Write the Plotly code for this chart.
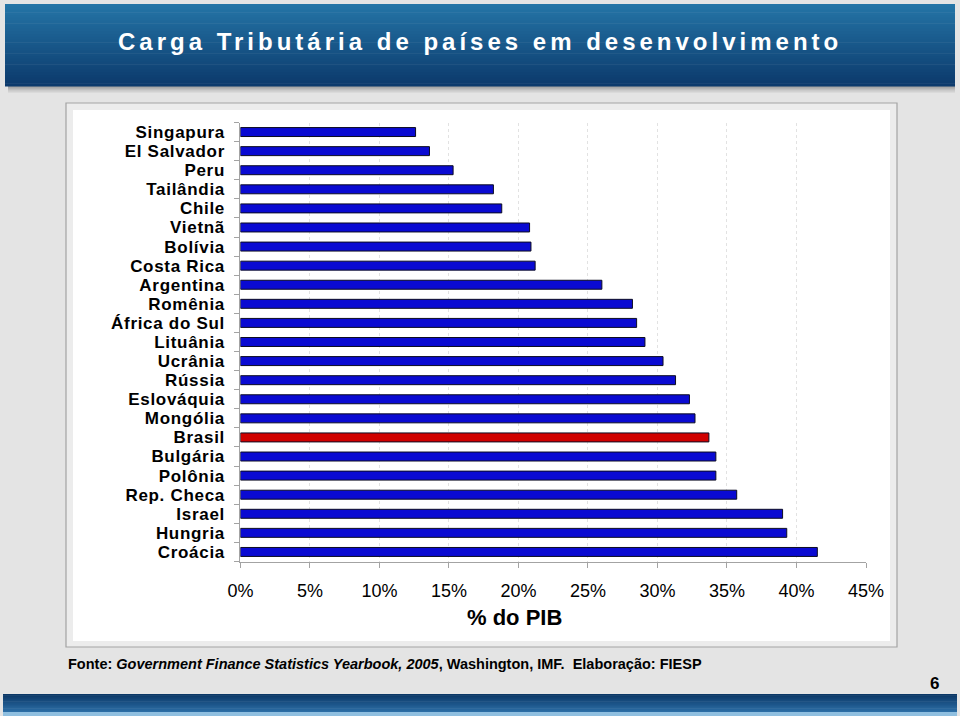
import plotly.graph_objects as go

W, H = 960, 716

# ---------------- data ----------------
countries = ["Singapura", "El Salvador", "Peru", "Tailândia", "Chile", "Vietnã",
             "Bolívia", "Costa Rica", "Argentina", "Romênia", "África do Sul",
             "Lituânia", "Ucrânia", "Rússia", "Eslováquia", "Mongólia", "Brasil",
             "Bulgária", "Polônia", "Rep. Checa", "Israel", "Hungria", "Croácia"]
carga_pct = [12.6, 13.6, 15.3, 18.2, 18.8, 20.8, 20.9, 21.2, 26.0, 28.2, 28.5,
             29.1, 30.4, 31.3, 32.3, 32.7, 33.7, 34.2, 34.2, 35.7, 39.0, 39.3, 41.5]
highlight = "Brasil"
x_tick_vals = [0, 5, 10, 15, 20, 25, 30, 35, 40, 45]
x_tick_labels = ["0%", "5%", "10%", "15%", "20%", "25%", "30%", "35%", "40%", "45%"]

title_text = "Carga Tributária de países em desenvolvimento"
axis_title = "% do PIB"
source_text = ("Fonte: <i>Government Finance Statistics Yearbook, 2005</i>, "
               "Washington, IMF.  Elaboração: FIESP")
page_number = "6"

# ---------------- helpers ----------------
def px(x):
    return x / W

def py(y):
    return 1 - y / H

def hex2rgb(h):
    h = h.lstrip("#")
    return tuple(int(h[i:i + 2], 16) for i in (0, 2, 4))

def lerp(c1, c2, t):
    a, b = hex2rgb(c1), hex2rgb(c2)
    return "rgb(%d,%d,%d)" % tuple(round(a[i] + (b[i] - a[i]) * t) for i in range(3))

shapes = []

def rect(x0, y0, x1, y1, fill, line=None, lw=0, layer="below"):
    shapes.append(dict(type="rect", xref="paper", yref="paper",
                       x0=px(x0), x1=px(x1), y0=py(y1), y1=py(y0),
                       fillcolor=fill, layer=layer,
                       line=dict(color=line or fill, width=lw)))

def gradient(x0, y0, x1, y1, c_top, c_bot, n=24):
    h = (y1 - y0) / n
    for i in range(n):
        rect(x0, y0 + i * h, x1, y0 + (i + 1) * h + 0.6, lerp(c_top, c_bot, i / (n - 1)))

# ---------------- decorations ----------------
# title bar shadow
gradient(8, 84, 955, 94, "#8c8c8c", "#e4e4e4", n=8)
# title bar
gradient(5, 4, 955, 86, "#2474a6", "#0c3a6c", n=30)
# bottom bar
gradient(3, 694, 957, 713, "#0b3766", "#2d70a8", n=16)
rect(3, 712, 957, 716, "#8fbfe0")
# chart frame
rect(66, 103, 897, 647, "#ececec", line="#a3a3a3", lw=1.2)
rect(73, 110, 890, 641, "#ffffff")

# ---------------- chart ----------------
colors = ["#d00000" if c == highlight else "#0a0ad2" for c in countries]
y_labels = ['<span style="letter-spacing:0.7px">%s</span>' % c for c in countries]

fig = go.Figure(go.Bar(
    x=carga_pct, y=countries, orientation="h",
    marker=dict(color=colors, line=dict(color="#0c0c22", width=1)),
    hoverinfo="skip",
))

fig.update_layout(
    width=W, height=H, autosize=False,
    margin=dict(l=0, r=0, t=0, b=0, pad=0),
    paper_bgcolor="#e4e4e4", plot_bgcolor="rgba(0,0,0,0)",
    bargap=0.53, showlegend=False,
    shapes=shapes,
    font=dict(family="Liberation Sans, Arial, sans-serif", color="#000000"),
    xaxis=dict(domain=[px(240.4), px(866)], range=[0, 45], automargin=False,
               tickmode="array", tickvals=x_tick_vals, ticktext=x_tick_labels,
               showgrid=True, gridcolor="#e2e2e2", griddash="dot", gridwidth=1,
               zeroline=False, showline=True, linecolor="#a3a3a3", linewidth=1,
               ticks="outside", ticklen=5, tickcolor="#a3a3a3",
               tickfont=dict(size=18, color="#000000"), ticklabelstandoff=8),
    yaxis=dict(domain=[py(561.5), py(122.5)], type="category", automargin=False,
               categoryorder="array", categoryarray=countries,
               autorange="reversed", tickmode="array",
               tickvals=countries, ticktext=y_labels,
               showgrid=False, zeroline=False, showline=True,
               linecolor="#a3a3a3", linewidth=1,
               ticks="outside", ticklen=5, tickcolor="#a3a3a3",
               tickson="boundaries",
               tickfont=dict(size=17, color="#000000", weight="bold"),
               ticklabelstandoff=11),
)

annotations = [
    dict(text='<span style="letter-spacing:4px">' + title_text + '</span>',
         x=px(480), y=py(42), xanchor="center", yanchor="middle",
         font=dict(size=24, color="#ffffff", weight="bold")),
    dict(text=axis_title, x=px(514), y=py(617), xanchor="center", yanchor="middle",
         font=dict(size=22, color="#000000", weight="bold")),
    dict(text=source_text, x=px(66), y=py(664), xanchor="left", yanchor="middle",
         font=dict(size=14.5, color="#000000", weight="bold")),
    dict(text=page_number, x=px(934), y=py(683), xanchor="center", yanchor="middle",
         font=dict(size=17, color="#000000", weight="bold")),
]
for a in annotations:
    a.update(xref="paper", yref="paper", showarrow=False)
fig.update_layout(annotations=annotations)

fig.write_html("out.html")
